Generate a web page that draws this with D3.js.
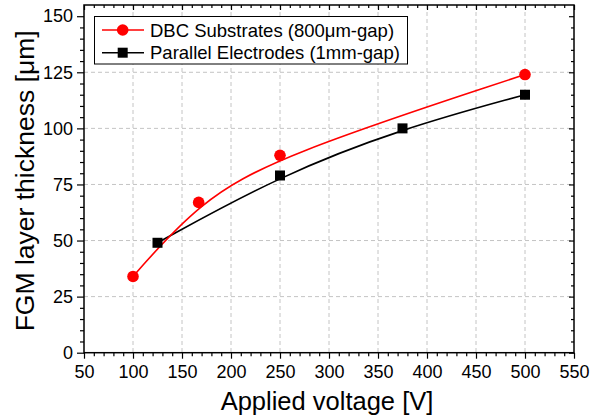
<!DOCTYPE html>
<html>
<head>
<meta charset="utf-8">
<script src="https://cdn.jsdelivr.net/npm/d3@7"></script>
<style>
  body { margin: 0; background: #fff; }
  text { font-family: "Liberation Sans", Arial, sans-serif; fill: #000; }
</style>
</head>
<body>
<script>
// data
var seriesNames = ['DBC Substrates (800\u03bcm-gap)', 'Parallel Electrodes (1mm-gap)'];
var voltDBC = [100, 167, 250, 500];
var thickDBC = [34, 67, 88, 124];
var voltPE = [125, 250, 375, 500];
var thickPE = [49, 79, 100, 115];
var xTicks = [50, 100, 150, 200, 250, 300, 350, 400, 450, 500, 550];
var yTicks = [0, 25, 50, 75, 100, 125, 150];

var W = 601, H = 420;
// plot box (don't use "top" - it's window.top)
var pLeft = 84, pRight = 574, pTop = 5, pBottom = 352.7;

var svg = d3.select('body').append('svg')
    .attr('width', W)
    .attr('height', H);

var x = d3.scaleLinear().domain([50, 550]).range([pLeft, pRight]);
var y = d3.scaleLinear().domain([0, 155]).range([pBottom, pTop]);

var xMinor = d3.range(50, 551, 10).filter(function(v){ return v % 50 !== 0; });
var yMinor = d3.range(0, 155, 5).filter(function(v){ return v % 25 !== 0; });

// grid (no line on the 150 row)
svg.append('g').selectAll('line')
    .data(xTicks.slice(1, -1)).enter().append('line')
    .attr('x1', function(d){ return x(d); })
    .attr('x2', function(d){ return x(d); })
    .attr('y1', pTop).attr('y2', pBottom)
    .attr('stroke', '#c4c4c4').attr('stroke-width', 1)
    .attr('stroke-dasharray', '4,3');
svg.append('g').selectAll('line')
    .data(yTicks.slice(1, -1)).enter().append('line')
    .attr('y1', function(d){ return y(d); })
    .attr('y2', function(d){ return y(d); })
    .attr('x1', pLeft).attr('x2', pRight)
    .attr('stroke', '#c4c4c4').attr('stroke-width', 1)
    .attr('stroke-dasharray', '4,3');

// axes
function styleAxis(g) {
    g.select('.domain').remove();
    g.selectAll('line').attr('stroke', '#000').attr('stroke-width', 1.2);
    g.selectAll('text').style('font-size', '18px');
}

svg.append('g').attr('transform', 'translate(0,' + pBottom + ')')
    .call(d3.axisBottom(x).tickValues(xMinor).tickSize(3.5).tickFormat(''))
    .call(styleAxis);
svg.append('g').attr('transform', 'translate(0,' + pBottom + ')')
    .call(d3.axisBottom(x).tickValues(xTicks).tickSize(6).tickPadding(6.5).tickFormat(d3.format('d')))
    .call(styleAxis);

svg.append('g').attr('transform', 'translate(' + pLeft + ',0)')
    .call(d3.axisLeft(y).tickValues(yMinor).tickSize(4).tickFormat(''))
    .call(styleAxis);
svg.append('g').attr('transform', 'translate(' + pLeft + ',0)')
    .call(d3.axisLeft(y).tickValues(yTicks).tickSize(7).tickPadding(4).tickFormat(d3.format('d')))
    .call(styleAxis);

// top and right: ticks inside, no labels
svg.append('g').attr('transform', 'translate(0,' + pTop + ')')
    .call(d3.axisTop(x).tickValues(xMinor).tickSize(-3).tickFormat(''))
    .call(styleAxis);
svg.append('g').attr('transform', 'translate(0,' + pTop + ')')
    .call(d3.axisTop(x).tickValues(xTicks).tickSize(-5).tickFormat(''))
    .call(styleAxis);
svg.append('g').attr('transform', 'translate(' + pRight + ',0)')
    .call(d3.axisRight(y).tickValues(yMinor).tickSize(-3).tickFormat(''))
    .call(styleAxis);
svg.append('g').attr('transform', 'translate(' + pRight + ',0)')
    .call(d3.axisRight(y).tickValues(yTicks).tickSize(-5).tickFormat(''))
    .call(styleAxis);

// frame
svg.append('rect')
    .attr('x', pLeft).attr('y', pTop)
    .attr('width', pRight - pLeft).attr('height', pBottom - pTop)
    .attr('fill', 'none').attr('stroke', '#000').attr('stroke-width', 1.5);

// curves (B-spline like the original)
var line = d3.line()
    .x(function(d){ return x(d[0]); })
    .y(function(d){ return y(d[1]); })
    .curve(d3.curveBasis);

var dbc = d3.zip(voltDBC, thickDBC);
var pe = d3.zip(voltPE, thickPE);

svg.append('path').datum(pe)
    .attr('d', line).attr('fill', 'none')
    .attr('stroke', '#000').attr('stroke-width', 1.6);
svg.append('path').datum(dbc)
    .attr('d', line).attr('fill', 'none')
    .attr('stroke', '#ff0000').attr('stroke-width', 1.6);

svg.selectAll('rect.pe')
    .data(pe).enter().append('rect')
    .attr('class', 'pe')
    .attr('x', function(d){ return x(d[0]) - 5; })
    .attr('y', function(d){ return y(d[1]) - 5; })
    .attr('width', 10).attr('height', 10)
    .attr('fill', '#000');
svg.selectAll('circle.dbc')
    .data(dbc).enter().append('circle')
    .attr('class', 'dbc')
    .attr('cx', function(d){ return x(d[0]); })
    .attr('cy', function(d){ return y(d[1]); })
    .attr('r', 5.8)
    .attr('fill', '#ff0000');

// legend
var lg = svg.append('g');
lg.append('rect')
    .attr('x', 94.5).attr('y', 16.5)
    .attr('width', 313).attr('height', 47.5)
    .attr('fill', '#fff').attr('stroke', '#000').attr('stroke-width', 1);

var rowY = [30, 52.7];
var colors = ['#ff0000', '#000'];
lg.selectAll('line')
    .data(seriesNames).enter().append('line')
    .attr('x1', 102).attr('x2', 144)
    .attr('y1', function(d, i){ return rowY[i]; })
    .attr('y2', function(d, i){ return rowY[i]; })
    .attr('stroke', function(d, i){ return colors[i]; })
    .attr('stroke-width', 1.6);
lg.append('circle').attr('cx', 122.7).attr('cy', rowY[0]).attr('r', 5.8).attr('fill', '#ff0000');
lg.append('rect').attr('x', 117.7).attr('y', rowY[1] - 5).attr('width', 10).attr('height', 10).attr('fill', '#000');
lg.selectAll('text')
    .data(seriesNames).enter().append('text')
    .attr('x', 150)
    .attr('y', function(d, i){ return rowY[i] + 6.5; })
    .style('font-size', '18.5px')
    .text(function(d){ return d; });

// axis titles
svg.append('text')
    .attr('x', 327)
    .attr('y', 410)
    .attr('text-anchor', 'middle')
    .style('font-size', '25.5px')
    .text('Applied voltage [V]');
svg.append('text')
    .attr('transform', 'translate(34,' + ((pTop + pBottom) / 2 + 2) + ') rotate(-90)')
    .attr('text-anchor', 'middle')
    .style('font-size', '26.5px')
    .text('FGM layer thickness [\u03bcm]');
</script>
</body>
</html>
